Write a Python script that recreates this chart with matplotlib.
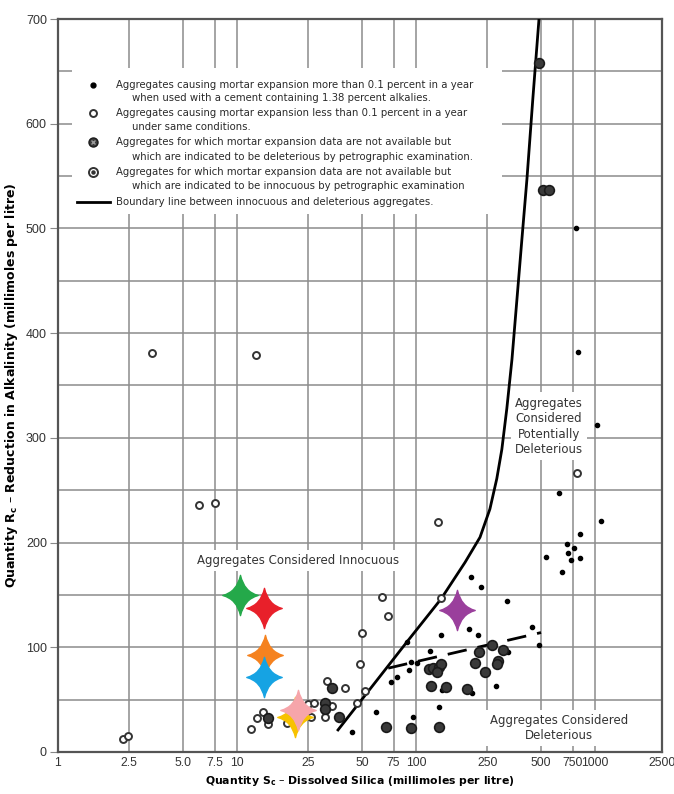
import matplotlib
matplotlib.use('Agg')
import matplotlib.pyplot as plt
import numpy as np
from matplotlib.path import Path
from matplotlib.patches import Rectangle
from matplotlib.ticker import MultipleLocator, NullLocator

# ---- data ----
x_ticks = [1, 2.5, 5, 7.5, 10, 25, 50, 75, 100, 250, 500, 750, 1000, 2500]
x_tick_labels = ['1', '2.5', '5.0', '7.5', '10', '25', '50', '75', '100',
                 '250', '500', '750', '1000', '2500']

# boundary line between innocuous and deleterious
bound_s = [36.7, 89, 138, 188, 228, 259, 283, 302, 322, 344, 367, 391, 417, 450, 487]
bound_r = [21, 105, 146, 181, 205, 232, 261, 289, 328, 375, 433, 490, 547, 624, 700]

# dashed line
dash_s = [70, 500]
dash_r = [80, 114]

# expansion > 0.1 % (small filled dots)
del_s = [44, 60, 96, 89, 72.5, 78, 94, 101, 91, 120, 138, 198, 222, 322, 445, 487,
         325, 139, 205, 280, 134, 203, 231, 533, 698, 763, 707, 734, 824, 654,
         1026, 629, 1081, 824, 804, 783]
del_r = [19, 38, 33, 105, 67, 72, 86, 85, 78, 96, 112, 117, 112, 144, 119, 102,
         95, 59, 56, 63, 43, 167, 158, 186, 199, 195, 190, 183, 185, 172,
         312, 247, 221, 208, 382, 500]

# expansion < 0.1 % (open circles)
inn_s = [2.3, 2.45, 3.35, 6.1, 7.5, 12.8, 133, 790, 65, 70, 50, 49, 52, 47, 32, 40,
         25, 27, 34, 31, 26, 19, 14, 13, 15, 12, 138]
inn_r = [12, 15, 381, 236, 238, 379, 220, 266, 148, 130, 114, 84, 58, 47, 68, 61,
         46, 47, 44, 33, 33, 28, 38, 32, 27, 22, 147]

# petrographic: deleterious (dark circles)
pet_s = [68, 94, 134, 121, 147, 193, 118, 124, 134, 138, 131, 214, 225, 243, 266,
         287, 285, 306, 487, 512, 553, 34, 31, 31, 37, 15]
pet_r = [24, 23, 24, 63, 62, 60, 79, 80, 81, 84, 76, 85, 95, 76, 102,
         87, 84, 97, 658, 537, 537, 61, 47, 41, 33, 32]

# highlighted samples (stars)
star_s = [10.4, 14.2, 14.3, 14.2, 21.1, 21.9, 169]
star_r = [150, 137, 93, 72, 33, 40, 136]
star_colors = ['#24a94a', '#e8202a', '#f5821f', '#16a3e3', '#f7c200', '#f6a5aa', '#9a3f9c']


# the printed chart squeezes the last decade (1000-2500) a little
def fwd(x):
    lx = np.log10(np.clip(x, 1e-6, None))
    return np.where(lx <= 3, lx, 3 + (lx - 3) * 0.94)


def inv(v):
    v = np.asarray(v, dtype=float)
    return np.where(v <= 3, 10 ** v, 10 ** (3 + (v - 3) / 0.94))


# four-pointed star marker with concave sides
c = 0.18
star_verts = [(0, 1), (c, c), (0.88, 0), (c, -c), (0, -1), (-c, -c), (-0.88, 0), (-c, c), (0, 1), (0, 1)]
star_codes = [Path.MOVETO] + [Path.CURVE3] * 8 + [Path.CLOSEPOLY]
star_marker = Path(star_verts, star_codes)

plt.rcParams['font.family'] = ['DejaVu Sans']

fig = plt.figure(figsize=(6.74, 7.94), dpi=100)
ax = fig.add_axes([0.086, 0.053, 0.896, 0.923])

ax.set_xscale('function', functions=(fwd, inv))
ax.set_xlim(1, 2500)
ax.set_ylim(0, 700)
ax.set_xticks(x_ticks)
ax.set_xticklabels(x_tick_labels)
ax.xaxis.set_minor_locator(NullLocator())
ax.set_yticks(range(0, 701, 100))
ax.yaxis.set_minor_locator(MultipleLocator(50))
ax.grid(which='both', color='#8c8c8c', linewidth=1.1)
ax.set_axisbelow(True)
tick_font = ['Liberation Sans', 'DejaVu Sans']
ax.tick_params(axis='x', length=0, pad=4, labelsize=8.7, labelcolor='#333333')
ax.tick_params(axis='y', which='major', length=6, color='#888888', labelsize=9,
               labelcolor='#333333', pad=2)
ax.tick_params(axis='y', which='minor', length=0)
for lab in ax.get_xticklabels() + ax.get_yticklabels():
    lab.set_family(tick_font)
for sp in ax.spines.values():
    sp.set_color('#555555')
    sp.set_linewidth(1.6)

ax.set_xlabel(r'Quantity S$_\mathregular{c}$ – Dissolved Silica (millimoles per litre)',
              fontsize=7.8, fontweight='bold', labelpad=3)
ax.set_ylabel(r'Quantity R$_\mathregular{c}$ – Reduction in Alkalinity (millimoles per litre)',
              fontsize=9, fontweight='bold', labelpad=4)

# boundary and dashed line
ax.plot(bound_s, bound_r, color='black', linewidth=2, zorder=3)
ax.plot(dash_s, dash_r, color='black', linewidth=2, dashes=(7, 4), zorder=3)

# points
ax.plot(del_s, del_r, 'o', color='black', markersize=3, zorder=4)
ax.plot(inn_s, inn_r, 'o', mfc='white', mec='#333333', mew=1.4, markersize=5, zorder=4)
ax.plot(pet_s, pet_r, 'o', mfc='#3a3a3a', mec='#1a1a1a', mew=1.2, markersize=7, zorder=4)

# region labels
box = dict(facecolor='white', edgecolor='none', pad=3)
ax.text(21.9, 183, 'Aggregates Considered Innocuous', fontsize=8.5, color='#333333',
        ha='center', va='center', bbox=box, zorder=5)
ax.text(553, 311, 'Aggregates\nConsidered\nPotentially\nDeleterious', fontsize=8.5,
        color='#333333', ha='center', va='center', linespacing=1.25, bbox=box, zorder=5)
ax.text(629, 23, 'Aggregates Considered\nDeleterious', fontsize=8.5, color='#333333',
        ha='center', va='center', linespacing=1.2, bbox=box, zorder=5)

# stars
for s, r, col in zip(star_s, star_r, star_colors):
    ax.plot(s, r, marker=star_marker, color=col, markersize=29, linestyle='none', zorder=6)

# legend drawn by hand so the symbol sits on the first text line
ta = ax.transAxes
ax.add_patch(Rectangle((0.023, 0.734), 0.712, 0.199, transform=ta,
                       facecolor='white', edgecolor='none', zorder=5))
legend_rows = [
    ('Aggregates causing mortar expansion more than 0.1 percent in a year',
     'when used with a cement containing 1.38 percent alkalies.'),
    ('Aggregates causing mortar expansion less than 0.1 percent in a year',
     'under same conditions.'),
    ('Aggregates for which mortar expansion data are not available but',
     'which are indicated to be deleterious by petrographic examination.'),
    ('Aggregates for which mortar expansion data are not available but',
     'which are indicated to be innocuous by petrographic examination'),
    ('Boundary line between innocuous and deleterious aggregates.', None),
]
row_y = [(0.910, 0.892), (0.872, 0.853), (0.832, 0.812), (0.791, 0.772), (0.750, None)]
for (l1, l2), (y1, y2) in zip(legend_rows, row_y):
    ax.text(0.096, y1, l1, transform=ta, fontsize=7.3, color='#2a2a2a', va='center', zorder=6)
    if l2:
        ax.text(0.1225, y2, l2, transform=ta, fontsize=7.3, color='#2a2a2a', va='center', zorder=6)

mx = 0.058
ax.plot(mx, 0.910, 'o', color='black', markersize=3.5, transform=ta, zorder=6)
ax.plot(mx, 0.872, 'o', mfc='white', mec='#333333', mew=1.4, markersize=5, transform=ta, zorder=6)
ax.plot(mx, 0.832, 'o', mfc='#3a3a3a', mec='#1a1a1a', mew=1.0, markersize=6.5, transform=ta, zorder=6)
ax.plot(mx, 0.832, 'x', color='#9a9a9a', mew=1.0, markersize=3.5, transform=ta, zorder=7)
ax.plot(mx, 0.791, 'o', mfc='white', mec='#333333', mew=1.4, markersize=6.5, transform=ta, zorder=6)
ax.plot(mx, 0.791, 'o', color='#333333', markersize=2.2, transform=ta, zorder=7)
ax.plot([0.032, 0.086], [0.750, 0.750], color='black', linewidth=2, transform=ta, zorder=6)

fig.savefig('out.png', dpi=100)
